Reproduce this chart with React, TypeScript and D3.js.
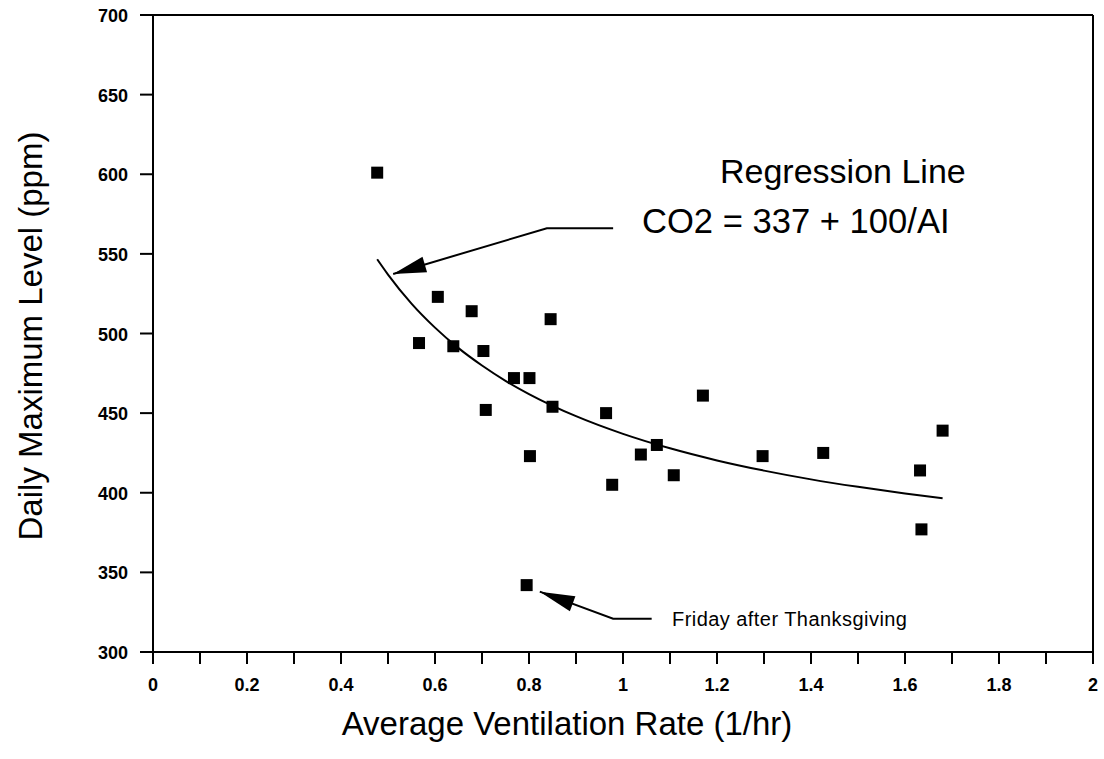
import React from "react";
import * as d3 from "d3";

const ventRate = [0.477, 0.566, 0.606, 0.639, 0.678, 0.703, 0.708, 0.768, 0.801, 0.802, 0.846, 0.850, 0.964, 0.977, 1.038, 1.072, 1.108, 1.170, 1.297, 1.426, 1.632, 1.635, 1.680, 0.795];
const co2Max = [601, 494, 523, 492, 514, 489, 452, 472, 472, 423, 509, 454, 450, 405, 424, 430, 411, 461, 423, 425, 414, 377, 439, 342];

const curveX = [0.477, 0.5, 0.55, 0.6, 0.65, 0.7, 0.75, 0.8, 0.9, 1.0, 1.1, 1.2, 1.3, 1.4, 1.5, 1.6, 1.68];
const curveY = [546.6, 537.0, 518.8, 503.7, 490.8, 479.9, 470.3, 462.0, 448.1, 437.0, 427.9, 420.3, 413.9, 408.4, 403.7, 399.5, 396.5];

const xTickLabels = [0, 0.2, 0.4, 0.6, 0.8, 1, 1.2, 1.4, 1.6, 1.8, 2];
const xMinorTicks = [0, 0.1, 0.2, 0.3, 0.4, 0.5, 0.6, 0.7, 0.8, 0.9, 1, 1.1, 1.2, 1.3, 1.4, 1.5, 1.6, 1.7, 1.8, 1.9, 2];
const yTickLabels = [300, 350, 400, 450, 500, 550, 600, 650, 700];

// annotation anchors (data coordinates)
const regArrow = [[0.979, 566.1], [0.838, 566.1], [0.511, 537.4]];
const fridayArrow = [[1.061, 320.9], [0.979, 320.9], [0.823, 337.9]];

const FONT = "'Liberation Sans', Arial, Helvetica, sans-serif";

function arrowHead(pts: number[][], len: number, half: number) {
  const [bx, by] = pts[pts.length - 2];
  const [tx, ty] = pts[pts.length - 1];
  const dx = bx - tx, dy = by - ty;
  const d = Math.hypot(dx, dy);
  const ux = dx / d, uy = dy / d;
  const cx = tx + ux * len, cy = ty + uy * len;
  const px = -uy * half, py = ux * half;
  return `M${tx},${ty}L${cx + px},${cy + py}L${cx - px},${cy - py}Z`;
}

export default function App() {
  const left = 153, right = 1093, top = 15, bottom = 652;
  const x = d3.scaleLinear().domain([0, 2]).range([left, right]);
  const y = d3.scaleLinear().domain([300, 700]).range([bottom, top]);

  const line = d3.line<number>().x((_, i) => x(curveX[i])).y((_, i) => y(curveY[i])).curve(d3.curveMonotoneX);
  const arrowLine = d3.line<number[]>().x((p) => x(p[0])).y((p) => y(p[1]));

  const regPx = regArrow.map((p) => [x(p[0]), y(p[1])]);
  const friPx = fridayArrow.map((p) => [x(p[0]), y(p[1])]);
  const sq = 12;

  return (
    <svg width={1104} height={759} style={{ position: "absolute", left: 0, top: 0, background: "#fff" }}>
      <rect x={0} y={0} width={1104} height={759} fill="#fff" />
      {/* frame */}
      <line x1={left - 13} x2={right} y1={top} y2={top} stroke="#000" strokeWidth={2} />
      <line x1={right} x2={right} y1={top} y2={bottom} stroke="#000" strokeWidth={2} />
      <line x1={left} x2={left} y1={top} y2={bottom + 12} stroke="#000" strokeWidth={2} />
      <line x1={left - 13} x2={right} y1={bottom} y2={bottom} stroke="#000" strokeWidth={2} />
      {/* y ticks */}
      {yTickLabels.map((v) => (
        <g key={"y" + v}>
          <line x1={left - 13} x2={left} y1={y(v)} y2={y(v)} stroke="#000" strokeWidth={2} />
          <text x={128} y={y(v) + 7} textAnchor="end" fontFamily={FONT} fontWeight="bold" fontSize={18} fill="#000">{v}</text>
        </g>
      ))}
      {/* x ticks */}
      {xMinorTicks.map((v) => (
        <line key={"xt" + v} x1={x(v)} x2={x(v)} y1={bottom} y2={bottom + 12} stroke="#000" strokeWidth={2} />
      ))}
      {xTickLabels.map((v) => (
        <text key={"xl" + v} x={x(v)} y={691} textAnchor="middle" fontFamily={FONT} fontWeight="bold" fontSize={18} fill="#000">{String(v)}</text>
      ))}
      {/* axis titles */}
      <text x={567} y={735} textAnchor="middle" fontFamily={FONT} fontSize={33} fill="#000">Average Ventilation Rate (1/hr)</text>
      <text transform={`translate(42,336) rotate(-90)`} textAnchor="middle" fontFamily={FONT} fontSize={33} fill="#000">Daily Maximum Level (ppm)</text>
      {/* regression curve */}
      <path d={line(curveX) || ""} fill="none" stroke="#000" strokeWidth={2} />
      {/* points */}
      {ventRate.map((v, i) => (
        <rect key={"p" + i} x={x(v) - sq / 2} y={y(co2Max[i]) - sq / 2} width={sq} height={sq} fill="#000" />
      ))}
      {/* annotations */}
      <path d={arrowLine(regArrow) || ""} fill="none" stroke="#000" strokeWidth={2} />
      <path d={arrowHead(regPx, 33, 8)} fill="#000" />
      <path d={arrowLine(fridayArrow) || ""} fill="none" stroke="#000" strokeWidth={2} />
      <path d={arrowHead(friPx, 35, 8)} fill="#000" />
      <text x={720} y={183} fontFamily={FONT} fontSize={34} fill="#000">Regression Line</text>
      <text x={642} y={233} fontFamily={FONT} fontSize={34.6} fill="#000">CO2 = 337 + 100/AI</text>
      <text x={672} y={626} fontFamily={FONT} fontSize={20} letterSpacing={0.45} fill="#000">Friday after Thanksgiving</text>
    </svg>
  );
}
